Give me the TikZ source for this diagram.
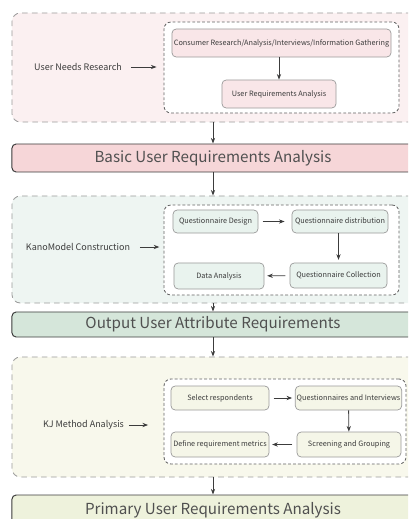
\documentclass[tikz,border=0pt]{standalone}
\usepackage{fontspec}
\setmainfont{Noto Sans CJK SC}
\usetikzlibrary{arrows.meta, positioning, calc}
\definecolor{DG}{RGB}{60,60,60}
\definecolor{BD}{RGB}{155,155,155}
\definecolor{PK}{RGB}{251,240,241}
\definecolor{PKi}{RGB}{249,230,232}
\definecolor{PKb}{RGB}{246,214,216}
\definecolor{MT}{RGB}{238,245,242}
\definecolor{MTi}{RGB}{233,243,238}
\definecolor{MTb}{RGB}{213,230,218}
\definecolor{YL}{RGB}{248,248,236}
\definecolor{YLi}{RGB}{245,246,232}
\definecolor{YLb}{RGB}{238,242,220}

\begin{document}
\begin{tikzpicture}[x=0.025cm, y=-0.025cm,
  outer/.style={draw=BD, dash pattern=on 4pt off 3pt, rounded corners=6pt, fill=#1, minimum width=10.2cm, line width=0.6pt},
  inner/.style={draw=DG!80, dash pattern=on 2pt off 1.5pt, rounded corners=5pt, fill=white, line width=0.6pt},
  item/.style={draw=BD, rounded corners=3pt, fill=#1, font=\fontsize{5.2}{6}\selectfont, text=DG, inner sep=1pt, line width=0.5pt},
  bar/.style={draw=DG, rounded corners=3pt, fill=#1, font=\fontsize{10.8}{12}\selectfont, text=DG!90, minimum width=10.05cm, line width=0.7pt},
  lbl/.style={font=\fontsize{6.4}{8}\selectfont, text=DG},
  arr/.style={-{Stealth[length=4pt,width=3pt]}, draw=DG, line width=0.6pt}
]
\useasboundingbox (0,0) rectangle (408,519);
\clip (0,0) rectangle (408,519);

% User needs research
\node[outer=PK, minimum height=2.725cm] (s1) at (216,67.5) {};
\node[inner, minimum width=5.875cm, minimum height=2.275cm] (i1) at (281.5,67.5) {};
\node[item=PKi, minimum width=5.475cm, minimum height=0.7cm] (c1) at (281.5,43) {Consumer Research/Analysis/Interviews/Information Gathering};
\node[item=PKi, minimum width=2.85cm, minimum height=0.7cm] (c2) at (279,94) {User Requirements Analysis};
\node[lbl] (l1) at (78,67) {User Needs Research};
\draw[arr] (c1.south -| c2) -- (c2);
\draw[arr, shorten <=3pt, shorten >=5pt] (l1.east) -- (i1.west |- l1);

\node[bar=PKb, minimum height=0.7cm] (b1) at (213,158) {Basic User Requirements Analysis};
\draw[arr] (s1.south -| b1) -- (b1);

% Kano model
\node[outer=MT, minimum height=2.675cm] (s2) at (216,249.5) {};
\node[inner, minimum width=5.875cm, minimum height=2.25cm] (i2) at (281.5,250) {};
\node[item=MTi, minimum width=2.125cm, minimum height=0.575cm] (k1) at (215.5,221.5) {Questionnaire Design};
\node[item=MTi, minimum width=2.4cm, minimum height=0.575cm] (k2) at (340,221.5) {Questionnaire distribution};
\node[item=MTi, minimum width=2.425cm, minimum height=0.625cm] (k3) at (338.5,275.5) {Questionnaire Collection};
\node[item=MTi, minimum width=2.25cm, minimum height=0.65cm] (k4) at (219,276) {Data Analysis};
\node[lbl] (l2) at (78,247) {KanoModel Construction};
\draw[arr, shorten <=3pt, shorten >=5pt] (k1) -- (k2);
\draw[arr, shorten >=2pt] (k2.south -| k3) -- (k3);
\draw[arr, shorten <=3pt, shorten >=2pt] (k3) -- (k4);
\draw[arr, shorten <=3.5pt, shorten >=3pt] (l2.east) -- (i2.west |- l2);

\draw[arr] (b1) -- (s2.north -| b1);
\node[bar=MTb, minimum height=0.625cm] (b2) at (213,324.5) {Output User Attribute Requirements};
\draw[arr] (s2.south -| b2) -- (b2);

% KJ method
\node[outer=YL, minimum height=3cm] (s3) at (216,417) {};
\node[inner, minimum width=6.05cm, minimum height=2.125cm] (i3) at (285,421.5) {};
\node[item=YLi, minimum width=2.45cm, minimum height=0.6cm] (j1) at (220,398) {Select respondents};
\node[item=YLi, minimum width=2.625cm, minimum height=0.6cm] (j2) at (348.5,398) {Questionnaires and Interviews};
\node[item=YLi, minimum width=2.6cm, minimum height=0.625cm] (j3) at (349,444.5) {Screening and Grouping};
\node[item=YLi, minimum width=2.45cm, minimum height=0.625cm] (j4) at (220,444.5) {Define requirement metrics};
\node[lbl] (l3) at (83.5,425) {KJ Method Analysis};
\draw[arr, shorten <=3pt, shorten >=2pt] (j1) -- (j2);
\draw[arr] (j2) -- (j3);
\draw[arr, shorten <=3pt, shorten >=2pt] (j3) -- (j4);
\draw[arr, shorten >=11pt] (l3.east) -- (i3.west |- l3);

\draw[arr] (b2) -- (s3.north -| b2);
\node[bar=YLb, minimum height=0.75cm] (b3) at (213,510) {Primary User Requirements Analysis};
\draw[arr] (s3.south -| b3) -- (b3);
\end{tikzpicture}
\end{document}
